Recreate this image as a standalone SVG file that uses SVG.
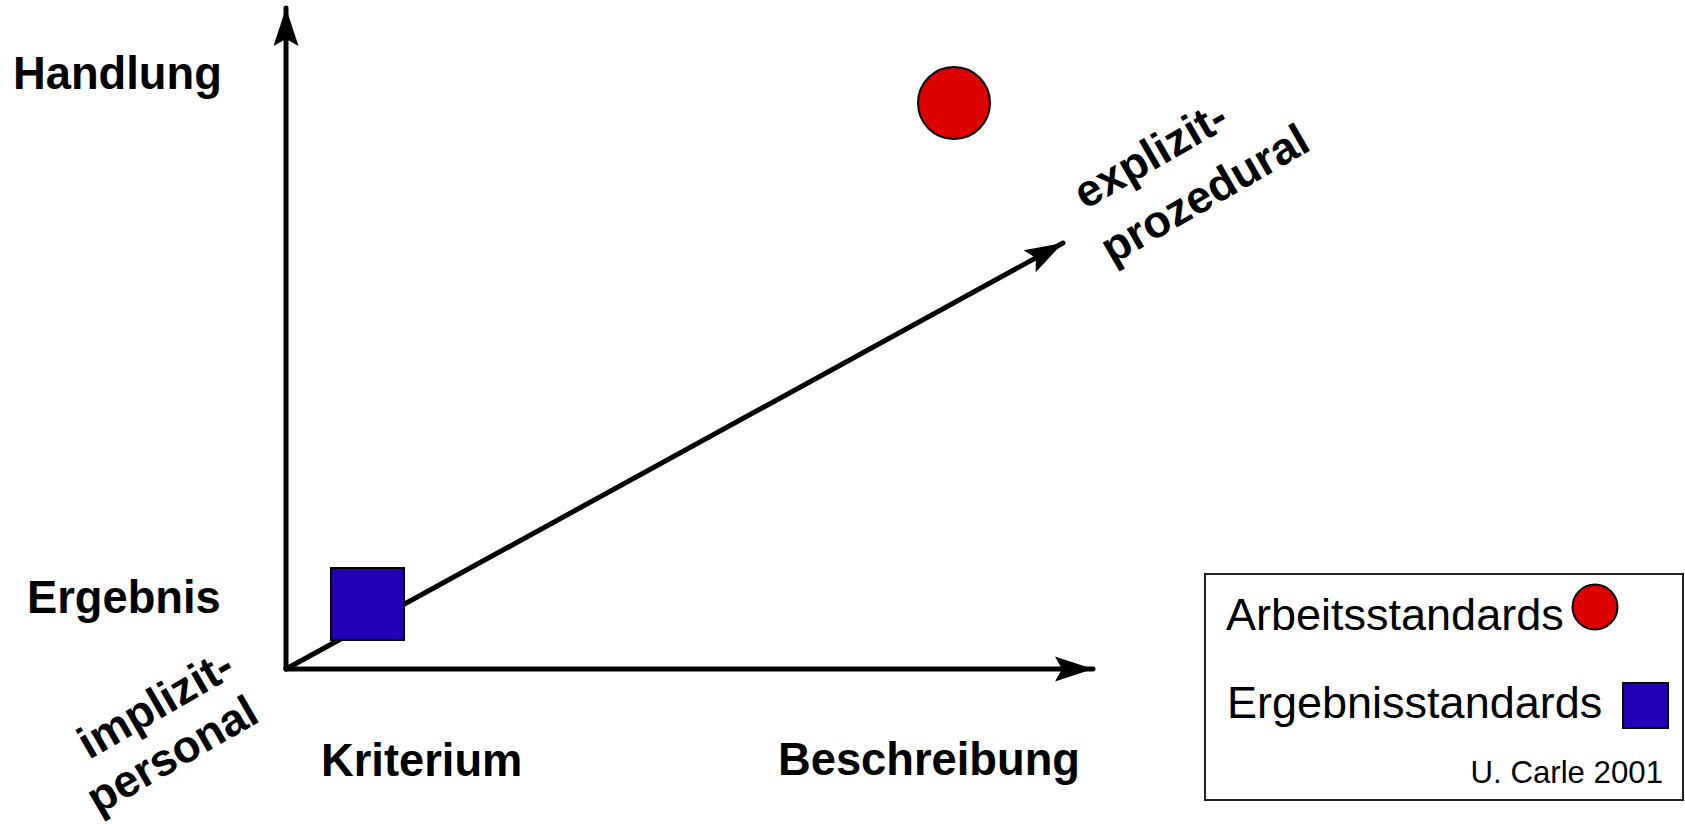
<svg xmlns="http://www.w3.org/2000/svg" width="1685" height="824" viewBox="0 0 1685 824">
<style>
.bold{font-family:"Liberation Sans",Arial,sans-serif;font-weight:bold;font-size:45.3px;fill:#000}
.reg{font-family:"Liberation Sans",Arial,sans-serif;font-size:45px;fill:#000}
.axis{stroke:#000;stroke-width:5;fill:none;stroke-linecap:round}
.red{fill:#dd0000;stroke:#000;stroke-width:2}
.blue{fill:#2200b4;stroke:#000;stroke-width:2}
</style>
<defs>
<marker id="arr" markerUnits="userSpaceOnUse" markerWidth="50" markerHeight="30" viewBox="-40 -15 42 30" refX="0" refY="0" orient="auto" overflow="visible">
<path d="M0,0 L-38,-12.5 L-31,0 L-38,12.5 Z" fill="#000"/>
</marker>
</defs>
<rect width="1685" height="824" fill="#fff"/>
<g id="connectors">
<line class="axis" x1="286" y1="669" x2="286" y2="8" marker-end="url(#arr)"/>
<line class="axis" x1="286" y1="669" x2="1093" y2="669" marker-end="url(#arr)"/>
<line class="axis" x1="286" y1="669" x2="1063" y2="243" marker-end="url(#arr)"/>
</g>
<g id="handlung"><text class="bold" x="13" y="89">Handlung</text></g>
<g id="ergebnis"><text class="bold" x="27" y="613">Ergebnis</text></g>
<g id="kriterium"><text class="bold" x="321" y="776">Kriterium</text></g>
<g id="beschreibung"><text class="bold" x="778" y="775">Beschreibung</text></g>
<g id="explizit">
<text class="bold" transform="translate(1085,210) rotate(-30)">explizit-</text>
<text class="bold" transform="translate(1112,265) rotate(-30)">prozedural</text>
</g>
<g id="implizit">
<text class="bold" transform="translate(89,760) rotate(-30)">implizit-</text>
<text class="bold" transform="translate(98,815) rotate(-30)">personal</text>
</g>
<g id="arbeit-point"><circle class="red" cx="954" cy="103" r="36"/></g>
<g id="ergebnis-point"><rect class="blue" x="331" y="568" width="73" height="72"/></g>
<g id="legend">
<rect x="1205" y="574" width="478" height="226" fill="#fff" stroke="#222" stroke-width="2"/>
<text class="reg" x="1226" y="630">Arbeitsstandards</text>
<circle class="red" cx="1595" cy="607" r="22.5"/>
<text class="reg" x="1227" y="718">Ergebnisstandards</text>
<rect class="blue" x="1623" y="683" width="45" height="45"/>
<text class="reg" x="1663" y="783" text-anchor="end" style="font-size:31.2px">U. Carle 2001</text>
</g>
</svg>
